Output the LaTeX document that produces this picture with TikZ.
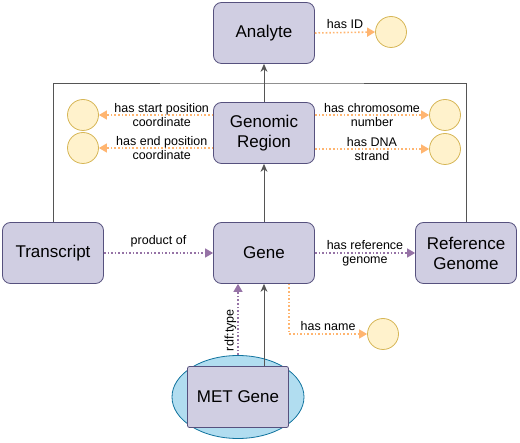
\documentclass[tikz,border=0pt]{standalone}
\usepackage{fontspec}
\setmainfont{Liberation Sans}
\usetikzlibrary{arrows.meta,shapes.geometric}
\definecolor{boxfill}{HTML}{D0CEE2}
\definecolor{boxline}{HTML}{56517E}
\definecolor{valfill}{HTML}{FFF2CC}
\definecolor{valline}{HTML}{D6B656}
\definecolor{propcol}{HTML}{FFB570}
\definecolor{relcol}{HTML}{9673A6}
\definecolor{ovalfill}{HTML}{B1DDF0}
\definecolor{ovalline}{HTML}{10739E}
\definecolor{linkcol}{HTML}{555555}

\begin{document}
\begin{tikzpicture}[x=1pt, y=-1pt,
  cls/.style = {draw=boxline, fill=boxfill, rounded corners=8pt, line width=0.8pt,
    minimum width=101pt, minimum height=61pt, align=center,
    font=\fontsize{17}{20}\selectfont},
  val/.style = {draw=valline, fill=valfill, circle, minimum size=31pt, inner sep=0pt, line width=0.8pt},
  prop/.style = {draw=propcol, dotted, line width=1.6pt, -{Triangle[length=8pt, width=9pt]}},
  rel/.style = {draw=relcol, dotted, line width=1.6pt, -{Triangle[length=8pt, width=9pt]}},
  link/.style = {draw=linkcol, line width=0.9pt, -{Stealth[length=8pt, width=7pt]}},
  lbl/.style = {font=\fontsize{12.5}{14}\selectfont, align=center, inner sep=1pt}]
\useasboundingbox (0,0) rectangle (520,443);

% classes
\node[cls] (analyte) at (264,33) {Analyte};
\node[cls] (region) at (264,133) {Genomic\\Region};
\node[cls] (transcript) at (53,253) {Transcript};
\node[cls] (gene) at (264,253) {Gene};
\node[cls] (refgenome) at (466,253) {Reference\\Genome};

% instance
\node[ellipse, draw=ovalline, fill=ovalfill, line width=0.8pt,
  minimum width=132pt, minimum height=83pt] (metoval) at (238,397) {};
\node[cls, rounded corners=2pt] (metgene) at (238,397) {MET Gene};

% values
\node[val] (id) at (391,32) {};
\node[val] (startpos) at (83,115) {};
\node[val] (endpos) at (83,148) {};
\node[val] (chrom) at (445,115) {};
\node[val] (strand) at (445,149) {};
\node[val] (name) at (383,334) {};

\coordinate (joint) at (264,83);

% subclass links
\draw[linkcol, line width=0.9pt] (transcript.north) |- (joint) -| (refgenome.north);
\draw[link] (region.north) -- (analyte.south);
\draw[link] (gene.north) -- (region.south);
\draw[link] (gene.south |- metgene.north) -- (gene.south);

% properties
\draw[prop] (analyte.east) -- (id.west) node[lbl, midway, above=2pt] {has ID};
\draw[prop] (region.west |- startpos) -- (startpos.east)
  node[lbl, pos=0.45] {has start position\\coordinate};
\draw[prop] (region.west |- endpos) -- (endpos.east)
  node[lbl, pos=0.45] {has end position\\coordinate};
\draw[prop] (region.east |- chrom) -- (chrom.west)
  node[lbl, midway] {has chromosome\\number};
\draw[prop] (region.east |- strand) -- (strand.west)
  node[lbl, midway] {has DNA\\strand};
\draw[prop] ([xshift=25pt]gene.south) |- (name.west)
  node[lbl, pos=0.75, above=2pt] {has name};

% relations
\draw[rel] (transcript.east) -- (gene.west) node[lbl, midway, above=4pt] {product of};
\draw[rel] (gene.east) -- (refgenome.west) node[lbl, midway] {has reference\\genome};
\draw[rel] (metoval.north) -- (metoval.north |- gene.south)
  node[lbl, pos=0.35, rotate=90, anchor=south] {rdf:type};
\end{tikzpicture}
\end{document}
